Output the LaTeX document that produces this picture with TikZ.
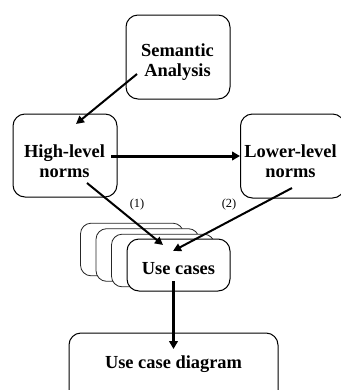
\documentclass[tikz,border=0pt]{standalone}
\usepackage{fontspec}
\setmainfont{Liberation Serif}
\usetikzlibrary{arrows.meta}
\begin{document}
\begin{tikzpicture}[x=0.75pt,y=-0.75pt,
  box/.style={draw=black,line width=0.75pt,rounded corners=9pt,fill=white,inner sep=0pt},
  backbox/.style={draw=black!85,line width=0.6pt,rounded corners=8pt,fill=white,inner sep=0pt,minimum width=77.25pt,minimum height=39.5pt},
  lbl/.style={font=\fontsize{13.8}{15}\selectfont\bfseries,align=center,inner sep=0pt},
  num/.style={font=\fontsize{9.3}{11}\selectfont,inner sep=0pt},
  thin/.style={line width=1.5pt,-{Triangle[length=6pt,width=6pt]}},
  thick/.style={line width=2.25pt,-{Triangle[length=6pt,width=6.5pt]}}]
\useasboundingbox (0,0) rectangle (341,390);
\clip (0,0) rectangle (341,390);
% boxes
\node[box,minimum width=78pt,minimum height=63pt] (sem) at (178,57) {};
\node[box,minimum width=78pt,minimum height=62.25pt] (high) at (65,155.5) {};
\node[box,minimum width=78pt,minimum height=63pt] (low) at (292.5,156) {};
\node[backbox] (b1) at (132,249.5) {};
\node[backbox] (b2) at (147.5,255) {};
\node[backbox] (b3) at (163,260.5) {};
\node[box,minimum width=77.25pt,minimum height=39pt] (uc) at (178.5,265) {};
\node[box,minimum width=156.75pt,minimum height=60pt] (ucd) at (173.5,373) {};
% texts
\node[lbl] (semT) at (177.5,62) {Semantic\\Analysis};
\node[lbl] (highT) at (64.5,161.5) {High-level\\norms};
\node[lbl] (lowT) at (290.5,161.5) {Lower-level\\norms};
\node[lbl] (ucT) at (178.5,268.5) {Use cases};
\node[lbl] (ucdT) at (173.5,364.5) {Use case diagram};
\node[num] (n1) at (137,205) {(1)};
\node[num] (n2) at (229,205) {(2)};
% connector end points
\coordinate (a1s) at (137,74);
\coordinate (a1e) at (76,124);
\coordinate (a2s) at (111,156);
\coordinate (a2e) at (240,156);
\coordinate (a3s) at (87,183);
\coordinate (a3e) at (163,245);
\coordinate (a4s) at (292,188);
\coordinate (a4e) at (173,251);
\coordinate (a5s) at (173.5,281);
\coordinate (a5e) at (173.5,349);
% connectors
\draw[thin] (a1s) -- (a1e);
\draw[thick] (a2s) -- (a2e);
\draw[thin] (a3s) -- (a3e);
\draw[thin] (a4s) -- (a4e);
\draw[thick] (a5s) -- (a5e);
\end{tikzpicture}
\end{document}
